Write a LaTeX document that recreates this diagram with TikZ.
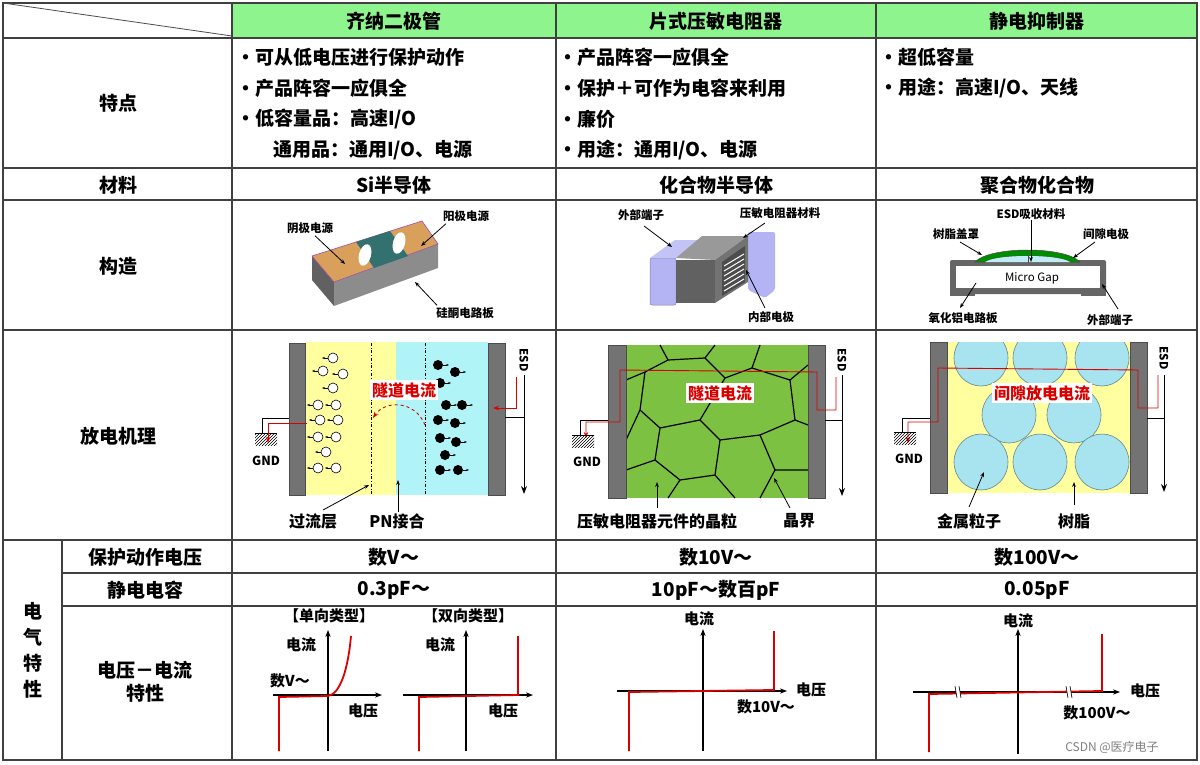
\documentclass[tikz,border=0pt]{standalone}
\usepackage{fontspec}
\setmainfont{Noto Sans CJK SC}
\usetikzlibrary{arrows.meta,patterns}
\definecolor{hdr}{HTML}{8EF58E}
\definecolor{yel}{HTML}{FFFFA0}
\definecolor{cya}{HTML}{B0F4F8}
\definecolor{grn}{HTML}{7DC142}
\definecolor{cir}{HTML}{A8E4F0}
\definecolor{lav}{HTML}{B4B4F4}
\definecolor{org}{HTML}{D9A05B}
\tikzset{
 grid/.style={draw=black!75,line width=1.2pt},
 big/.style={font=\fontsize{19}{21}\selectfont\bfseries,inner sep=0},
 feat/.style={big,anchor=west},
 lab/.style={font=\fontsize{11.5}{12}\selectfont\bfseries,inner sep=0},
 mlab/.style={font=\fontsize{16}{17}\selectfont\bfseries,inner sep=0},
 ivl/.style={font=\fontsize{15}{16}\selectfont\bfseries,inner sep=0},
 arr/.style={-{Stealth[length=5pt]},line width=0.8pt},
 ax/.style={-{Stealth[length=7pt]},line width=1.5pt},
 red/.style={draw=red!85!black,line width=1.8pt},
 rl/.style={draw=red!85!black,line width=0.9pt},
 elec/.style={fill=black!55,draw=black!70},
 box/.style={fill=white,inner sep=2pt,text=red!85!black,font=\fontsize{16}{17}\selectfont\bfseries},
 gnd/.style={font=\fontsize{12.5}{13}\selectfont\bfseries,inner sep=0},
 esd/.style={rotate=-90,font=\fontsize{11.5}{12}\selectfont\bfseries,inner sep=0},
}
\begin{document}
\begin{tikzpicture}[x=1pt,y=-1pt]
\useasboundingbox (0,0) rectangle (1200,765);
\fill[white] (0,0) rectangle (1200,765);
% header
\fill[hdr] (232,3) rectangle (1197,38);
\draw[grid] (3,3) rectangle (1197,760);
\foreach \yy in {38,168,200,330,540} \draw[grid] (3,\yy)--(1197,\yy);
\foreach \yy in {573,606} \draw[grid] (62,\yy)--(1197,\yy);
\draw[grid] (62,540)--(62,760);
\foreach \xx in {232,556,876} \draw[grid] (\xx,3)--(\xx,760);
\draw[line width=0.8pt,black!70] (3,3)--(232,36);
\node[big] (h1) at (394,21) {齐纳二极管};
\node[big] (h2) at (716,21) {片式压敏电阻器};
\node[big] (h3) at (1037,21) {静电抑制器};
% row titles
\node[big] (r1) at (118,103) {特点};
\node[big] (r2) at (118,185) {材料};
\node[big] (r3) at (118,266) {构造};
\node[big] (r4) at (118,436) {放电机理};
\node[big,align=center] (r5) at (33,650) {电\\[5pt]气\\[5pt]特\\[5pt]性};
\node[big] (r6) at (145,557) {保护动作电压};
\node[big] (r7) at (145,590) {静电电容};
\node[big,align=center] (r8) at (145,682) {电压－电流\\[2pt]特性};
% features
\node[feat] (f11) at (236,57) {・可从低电压进行保护动作};
\node[feat] (f12) at (236,88) {・产品阵容一应俱全};
\node[feat] (f13) at (236,119) {・低容量品：高速I/O};
\node[feat] (f14) at (273,150) {通用品：通用I/O、电源};
\node[feat] (f21) at (558,57) {・产品阵容一应俱全};
\node[feat] (f22) at (558,88) {・保护＋可作为电容来利用};
\node[feat] (f23) at (558,119) {・廉价};
\node[feat] (f24) at (558,150) {・用途：通用I/O、电源};
\node[feat] (f31) at (879,57) {・超低容量};
\node[feat] (f32) at (879,88) {・用途：高速I/O、天线};
% materials
\node[big] (m1) at (394,185) {Si半导体};
\node[big] (m2) at (716,185) {化合物半导体};
\node[big] (m3) at (1037,185) {聚合物化合物};
% voltage & capacitance
\node[big] (v1) at (394,557) {数V～};
\node[big] (v2) at (716,557) {数10V～};
\node[big] (v3) at (1037,557) {数100V～};
\node[big] (c1) at (394,590) {0.3pF～};
\node[big] (c2) at (716,590) {10pF～数百pF};
\node[big] (c3) at (1037,590) {0.05pF};

% ===== structure col1 =====
\fill[black!62] (312,256)--(334,282)--(334,306)--(312,280)--cycle;
\fill[black!45] (334,282)--(438,244)--(438,268)--(334,306)--cycle;
\fill[org,draw=violet!70,line width=0.6pt] (312,256)--(422,221)--(438,244)--(334,282)--cycle;
\fill[teal!60!black!80] (356,242)--(390,231)--(408,256)--(374,268)--cycle;
\fill[white,rotate around={-15:(365,255)}] (365,255) ellipse (6 and 11);
\fill[white,rotate around={-15:(399,243)}] (399,243) ellipse (6 and 11);
\node[lab] (s1a) at (310,228) {阴极电源};
\node[lab] (s1b) at (466,216) {阳极电源};
\node[lab] (s1c) at (465,313) {硅酮电路板};
\coordinate (s1ap) at (345,264); \coordinate (s1bp) at (421,246); \coordinate (s1cp) at (415,282);
\draw[arr] (s1a.south)++(5,2) -- (s1ap);
\draw[arr] (s1b.south)++(-20,2) -- (s1bp);
\draw[arr] (s1c.north)++(-28,-2) -- (s1cp);

% ===== structure col2 =====
\fill[lav,rounded corners=2pt] (748,232)--(775,232)--(775,290)--(765,298)--(748,290)--cycle;
\fill[lav,draw=lav!70!black,line width=0.5pt,rounded corners=2pt] (650,258)--(676,258)--(676,305)--(650,305)--cycle;
\fill[lav!80!white] (650,258)--(675,240)--(700,240)--(676,258)--cycle;
\fill[black!40] (676,258)--(702,236)--(748,236)--(715,260)--cycle;
\fill[black!62] (676,260) rectangle (715,303);
\fill[black!55] (715,260)--(748,236)--(748,282)--(715,303)--cycle;
\fill[black!70] (722,262)--(745,246)--(745,282)--(722,296)--cycle;
\foreach \k in {0,1,2,3,4,5} \draw[white,line width=1pt] (724,266+5*\k)--(744,254+5*\k);
\node[lab] (s2a) at (641,215) {外部端子};
\node[lab] (s2b) at (780,213) {压敏电阻器材料};
\node[lab] (s2c) at (771,317) {内部电极};
\coordinate (s2ap) at (672,247); \coordinate (s2bp) at (743,238); \coordinate (s2cp) at (746,270);
\draw[arr] (644,226)--(s2ap);
\draw[arr] (765,223)--(s2bp);
\draw[arr] (765,308)--(s2cp);

% ===== structure col3 =====
\fill[black!60,rounded corners=2pt] (950,260) rectangle (1106,294);
\fill[white] (956,266) rectangle (1100,288);
\fill[black!60] (950,288) rectangle (975,296);
\fill[black!60] (1081,288) rectangle (1106,296);
\fill[green!55!black,draw=black!70,line width=0.5pt] (975,262) .. controls (990,246) and (1065,246) .. (1080,262) -- (1070,262) .. controls (1058,254) and (997,254) .. (985,262) -- cycle;
\fill[cir!70!white] (985,262) .. controls (997,254) and (1058,254) .. (1070,262) -- cycle;
\draw[black!70,line width=0.8pt] (1028,256)--(1028,263);
\node[font=\fontsize{11.5}{12}\selectfont,inner sep=0] (mg) at (1032,278) {Micro Gap};
\node[lab] (s3a) at (1031,214) {ESD吸收材料};
\node[lab] (s3b) at (956,234) {树脂盖罩};
\node[lab] (s3c) at (1106,234) {间隙电极};
\node[lab] (s3d) at (963,318) {氧化铝电路板};
\node[lab] (s3e) at (1110,320) {外部端子};
\coordinate (s3ap) at (1031,262); \coordinate (s3bp) at (982,255); \coordinate (s3cp) at (1073,258);
\coordinate (s3dp) at (960,308); \coordinate (s3ep) at (1102,284);
\draw[arr] (s3a.south)--(s3ap);
\draw[arr] (960,242)--(s3bp);
\draw[arr] (1095,242)--(s3cp);
\draw[arr] (976,283)--(s3dp);
\draw[arr] (1118,309)--(s3ep);

% ===== mechanism col1 =====
\fill[yel] (305,342) rectangle (396,495);
\fill[cya] (396,342) rectangle (488,495);
\draw[elec] (289,343) rectangle (305,495);
\draw[elec] (488,343) rectangle (505,495);
\draw[dash dot,line width=0.8pt] (371,343)--(371,495);
\draw[dash dot,line width=0.8pt] (425,343)--(425,495);
\foreach \px/\py in {333/358,323/371,343/374,333/388,318/405,336/405,320/420,338/420,318/437,336/437,326/452,318/468,336/468}
 {\draw[line width=0.6pt,fill=white] (\px,\py) circle (5); \draw[-{Stealth[length=3pt]},line width=0.6pt] (\px-5,\py)--(\px-11,\py);}
\foreach \px/\py in {438/365,455/372,440/383,446/405,462/405,438/420,455/423,440/438,456/442,445/455,440/470,458/470}
 {\fill (\px,\py) circle (5); \draw[-{Stealth[length=3pt]},line width=0.6pt] (\px+5,\py)--(\px+11,\py);}
\node[box] (t1) at (404,390) {隧道电流};
\draw[rl,dashed,-{Stealth[length=6pt]}] (425,425) .. controls (415,400) and (385,400) .. (373,418);
\draw[line width=1pt] (505,417)--(524,417);
\draw[-{Stealth[length=8pt]},line width=1pt] (524,375)--(524,494);
\node[esd] (e1) at (524,360) {ESD};
\draw[rl,-{Stealth[length=6pt]}] (516,377)--(516,408)--(493,408);
\draw[line width=1pt] (289,418)--(262,418)--(262,433);
\fill[pattern=north east lines] (255,433) rectangle (277,445);
\draw[line width=1pt] (255,433)--(277,433);
\draw[rl,-{Stealth[length=6pt]}] (307,423)--(268,423)--(268,443);
\node[gnd] (g1) at (266,461) {GND};
\node[mlab] (p1) at (313,521) {过流层};
\node[mlab] (p2) at (397,521) {PN接合};
\draw[arr] (323,510)--(369,485);
\draw[arr] (398,512)--(398,480);

% ===== mechanism col2 =====
\fill[grn] (626,345) rectangle (808,498);
\begin{scope}[line width=1.2pt,line join=round]
\draw (660,345)--(668,360)--(705,358)--(715,345);
\draw (760,345)--(752,368)--(790,380)--(808,365);
\draw (626,380)--(645,372)--(668,360);
\draw (705,358)--(725,378)--(752,368);
\draw (645,372)--(640,410)--(660,428)--(700,420)--(725,378);
\draw (790,380)--(795,420)--(808,425);
\draw (700,420)--(720,440)--(760,435)--(795,420);
\draw (626,440)--(640,410);
\draw (660,428)--(655,460)--(626,470);
\draw (720,440)--(715,475)--(680,480)--(655,460);
\draw (760,435)--(775,470)--(808,470);
\draw (715,475)--(735,498);
\draw (775,470)--(760,498);
\draw (680,480)--(668,498);
\end{scope}
\draw[elec] (608,345) rectangle (626,498);
\draw[elec] (808,345) rectangle (825,498);
\draw[rl,-{Stealth[length=6pt]}] (836,377)--(836,410)--(817,410)--(817,372)--(620,370)--(620,422)--(586,422)--(586,438);
\node[box] (t2) at (720,393) {隧道电流};
\draw[line width=1pt] (825,420)--(842,420);
\draw[-{Stealth[length=8pt]},line width=1pt] (842,375)--(842,496);
\node[esd] (e2) at (842,360) {ESD};
\draw[line width=1pt] (608,420)--(580,420)--(580,435);
\fill[pattern=north east lines] (572,435) rectangle (594,447);
\draw[line width=1pt] (572,435)--(594,435);
\node[gnd] (g2) at (587,462) {GND};
\node[mlab] (p3) at (657,521) {压敏电阻器元件的晶粒};
\node[mlab] (p4) at (799,521) {晶界};
\draw[arr] (657,508)--(657,482);
\draw[arr] (790,508)--(774,478);

% ===== mechanism col3 =====
\fill[yel] (947,342) rectangle (1130,493);
\begin{scope}
\clip (947,342) rectangle (1130,493);
\foreach \cx/\cy in {981/358,1040/358,1102/358,1009/415,1074/415,981/462,1040/462,1102/462}
 \draw[cir!60!black,fill=cir,line width=0.6pt] (\cx,\cy) ellipse (27 and 28);
\end{scope}
\draw[elec] (930,342) rectangle (947,493);
\draw[elec] (1130,342) rectangle (1147,493);
\draw[rl,-{Stealth[length=6pt]}] (1158,375)--(1158,408)--(1138,408)--(1138,370)--(938,368)--(938,422)--(908,422)--(908,443);
\node[box] (t3) at (1042,393) {间隙放电电流};
\draw[line width=1pt] (1147,418)--(1164,418);
\draw[-{Stealth[length=8pt]},line width=1pt] (1164,375)--(1164,492);
\node[esd] (e3) at (1164,358) {ESD};
\draw[line width=1pt] (930,418)--(902,418)--(902,432);
\fill[pattern=north east lines] (894,432) rectangle (916,444);
\draw[line width=1pt] (894,432)--(916,432);
\node[gnd] (g3) at (909,459) {GND};
\node[mlab] (p5) at (969,521) {金属粒子};
\node[mlab] (p6) at (1074,521) {树脂};
\draw[arr] (969,507)--(984,472);
\draw[arr] (1074,505)--(1074,482);

% ===== IV curves =====
\node[ivl] (iv1) at (329,616) {【单向类型】};
\draw[ax] (273,695)--(382,695);
\draw[ax] (328,751)--(328,630);
\draw[red] (279,751)--(279,697)--(328,696) .. controls (340,694) and (348,670) .. (351,636);
\node[ivl] (iv1a) at (301,645) {电流};
\node[ivl] (iv1b) at (290,681) {数V～};
\node[ivl] (iv1c) at (363,711) {电压};
\node[ivl] (iv2) at (468,616) {【双向类型】};
\draw[ax] (403,695)--(533,695);
\draw[ax] (466,751)--(466,630);
\draw[red] (419,751)--(419,697)--(518,695)--(518,636);
\node[ivl] (iv2a) at (440,645) {电流};
\node[ivl] (iv2c) at (503,711) {电压};
\draw[ax] (617,691)--(787,691);
\draw[ax] (703,751)--(703,629);
\draw[red] (629,751)--(629,692)--(774,690)--(774,631);
\node[ivl] (iv3a) at (699,619) {电流};
\node[ivl] (iv3b) at (811,690) {电压};
\node[ivl] (iv3c) at (766,707) {数10V～};
\draw[ax] (913,692)--(1120,692);
\draw[ax] (1018,754)--(1018,629);
\draw[red] (929,752)--(929,694)--(1102,691)--(1102,634);
\foreach \bx in {957,1068} {
 \fill[white] (\bx-2,686)--(\bx+2,686)--(\bx+4,698)--(\bx,698)--cycle;
 \draw[line width=0.6pt] (\bx-2,686)--(\bx,698);
 \draw[line width=0.6pt] (\bx+2,686)--(\bx+4,698);}
\node[ivl] (iv4a) at (1018,621) {电流};
\node[ivl] (iv4b) at (1145,691) {电压};
\node[ivl] (iv4c) at (1097,713) {数100V～};
\node[font=\fontsize{12}{13}\selectfont,text=black!50,inner sep=0] (wm) at (1112,747) {CSDN @医疗电子};
\end{tikzpicture}
\end{document}
